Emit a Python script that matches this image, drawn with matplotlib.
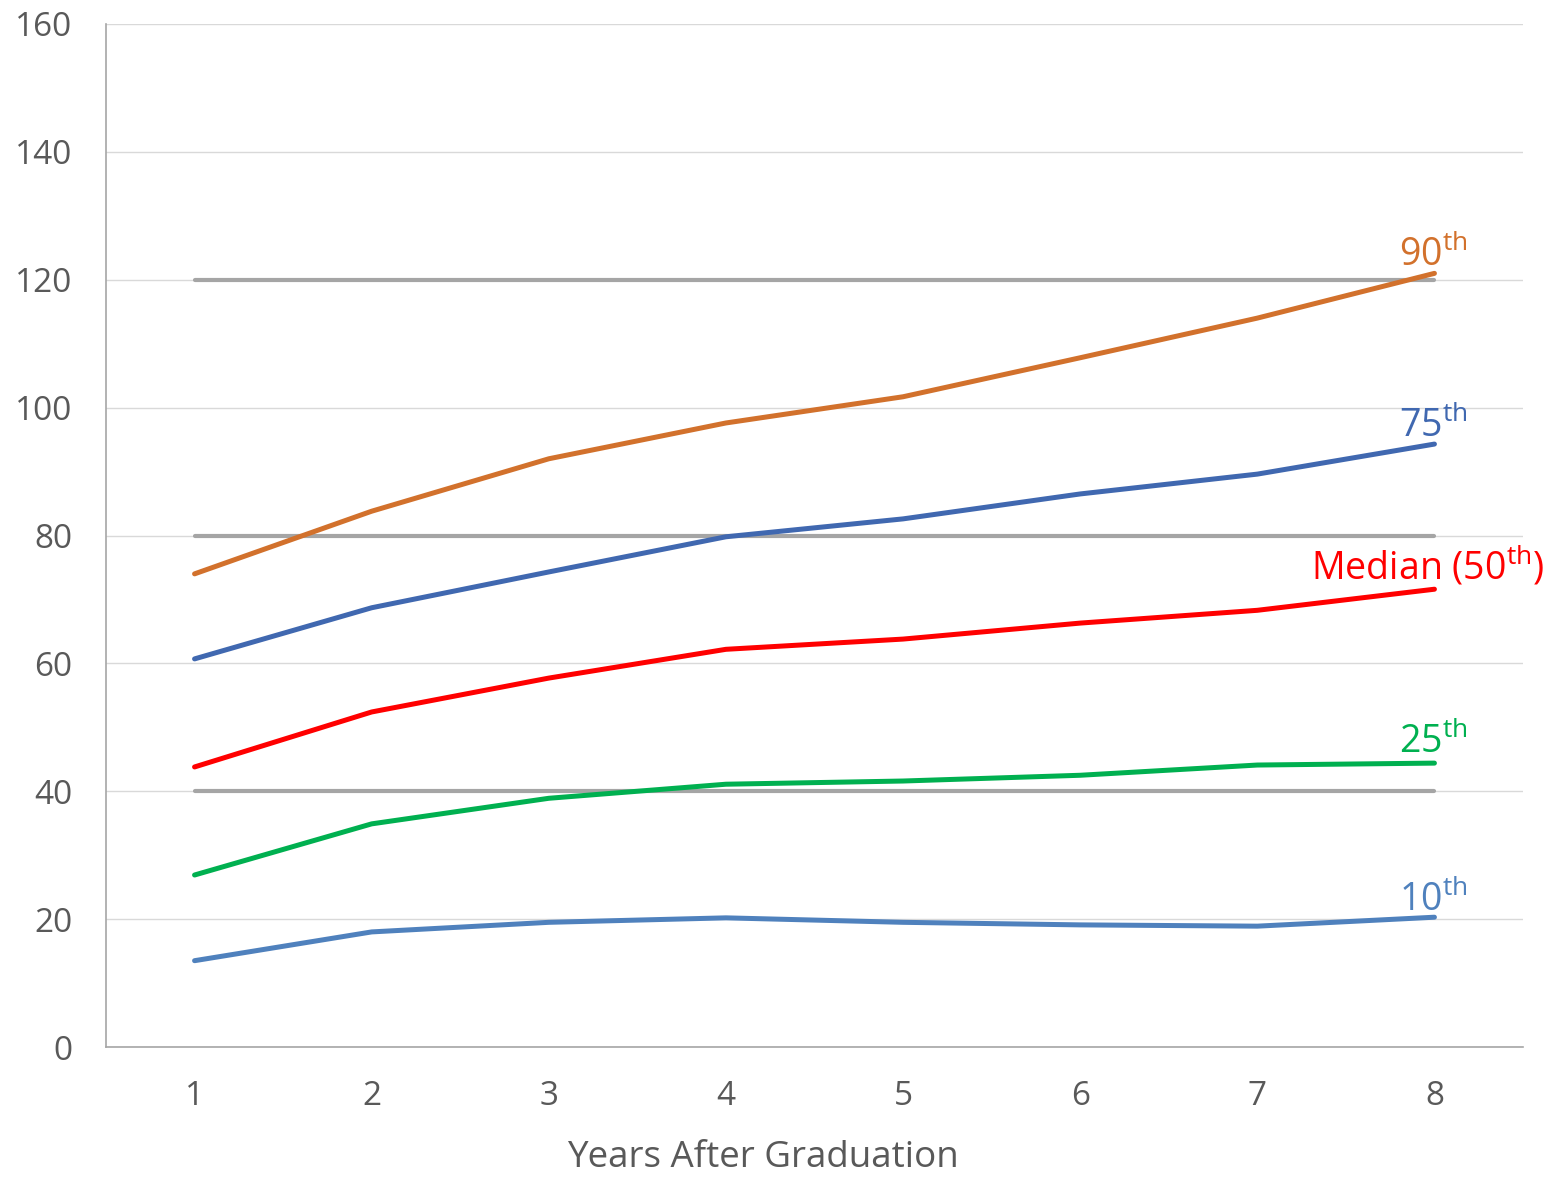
import matplotlib
matplotlib.use("Agg")
import matplotlib.pyplot as plt

plt.rcParams['font.family'] = ['Open Sans', 'DejaVu Sans']
plt.rcParams['mathtext.fontset'] = 'custom'
plt.rcParams['mathtext.rm'] = 'Open Sans'
plt.rcParams['mathtext.it'] = 'Open Sans'

years = [1, 2, 3, 4, 5, 6, 7, 8]
p90 = [74.0, 83.8, 92.0, 97.6, 101.7, 107.8, 114.0, 121.0]
p75 = [60.7, 68.7, 74.3, 79.8, 82.6, 86.5, 89.6, 94.3]
p50 = [43.8, 52.4, 57.7, 62.2, 63.8, 66.3, 68.3, 71.6]
p25 = [26.9, 34.9, 38.9, 41.1, 41.6, 42.5, 44.1, 44.4]
p10 = [13.5, 18.0, 19.5, 20.2, 19.5, 19.1, 18.9, 20.3]
ref_levels = [40, 80, 120]

fig = plt.figure(figsize=(15.5, 11.77), dpi=100)
ax = fig.add_axes([106/1550, 130/1177, (1523-106)/1550, (1047-24)/1177])

# horizontal reference lines
for lv in ref_levels:
    ax.plot([years[0], years[-1]], [lv, lv], color='#A5A5A5', lw=3, zorder=2,
            solid_capstyle='round')

series = [
    (p90, '#D2712C', r'90$^{\mathrm{th}}$', -35, 8),
    (p75, '#4068B0', r'75$^{\mathrm{th}}$', -35, 8),
    (p50, '#FF0000', r'Median (50$^{\mathrm{th}}$)', -123, 11),
    (p25, '#00B050', r'25$^{\mathrm{th}}$', -35, 11),
    (p10, '#4F81BD', r'10$^{\mathrm{th}}$', -35, 7),
]
for vals, col, lab, dx, dy in series:
    ax.plot(years, vals, color=col, lw=3.6, zorder=3, solid_capstyle='round')
    ax.annotate(lab, (years[-1], vals[-1]), xytext=(dx * 0.72, dy * 0.72),
                textcoords='offset points', ha='left', va='baseline',
                color=col, fontsize=27)

ax.set_xlim(0.5, 8.5)
ax.set_ylim(0, 160)
ax.set_yticks(range(0, 161, 20))
ax.set_xticks(years)
ax.grid(axis='y', color='#D9D9D9', lw=1)
ax.set_axisbelow(True)
for s in ['top', 'right']:
    ax.spines[s].set_visible(False)
for s in ['left', 'bottom']:
    ax.spines[s].set_color('#A6A6A6')
    ax.spines[s].set_linewidth(1.2)
ax.tick_params(length=0, labelsize=24, labelcolor='#595959')
ax.tick_params(axis='y', pad=24)
ax.tick_params(axis='x', pad=24)

fig.text(763/1550, 1 - 1158/1177, 'Years After Graduation', ha='center', va='center',
         fontsize=26.5, color='#595959')

fig.savefig('out.png', dpi=100)
